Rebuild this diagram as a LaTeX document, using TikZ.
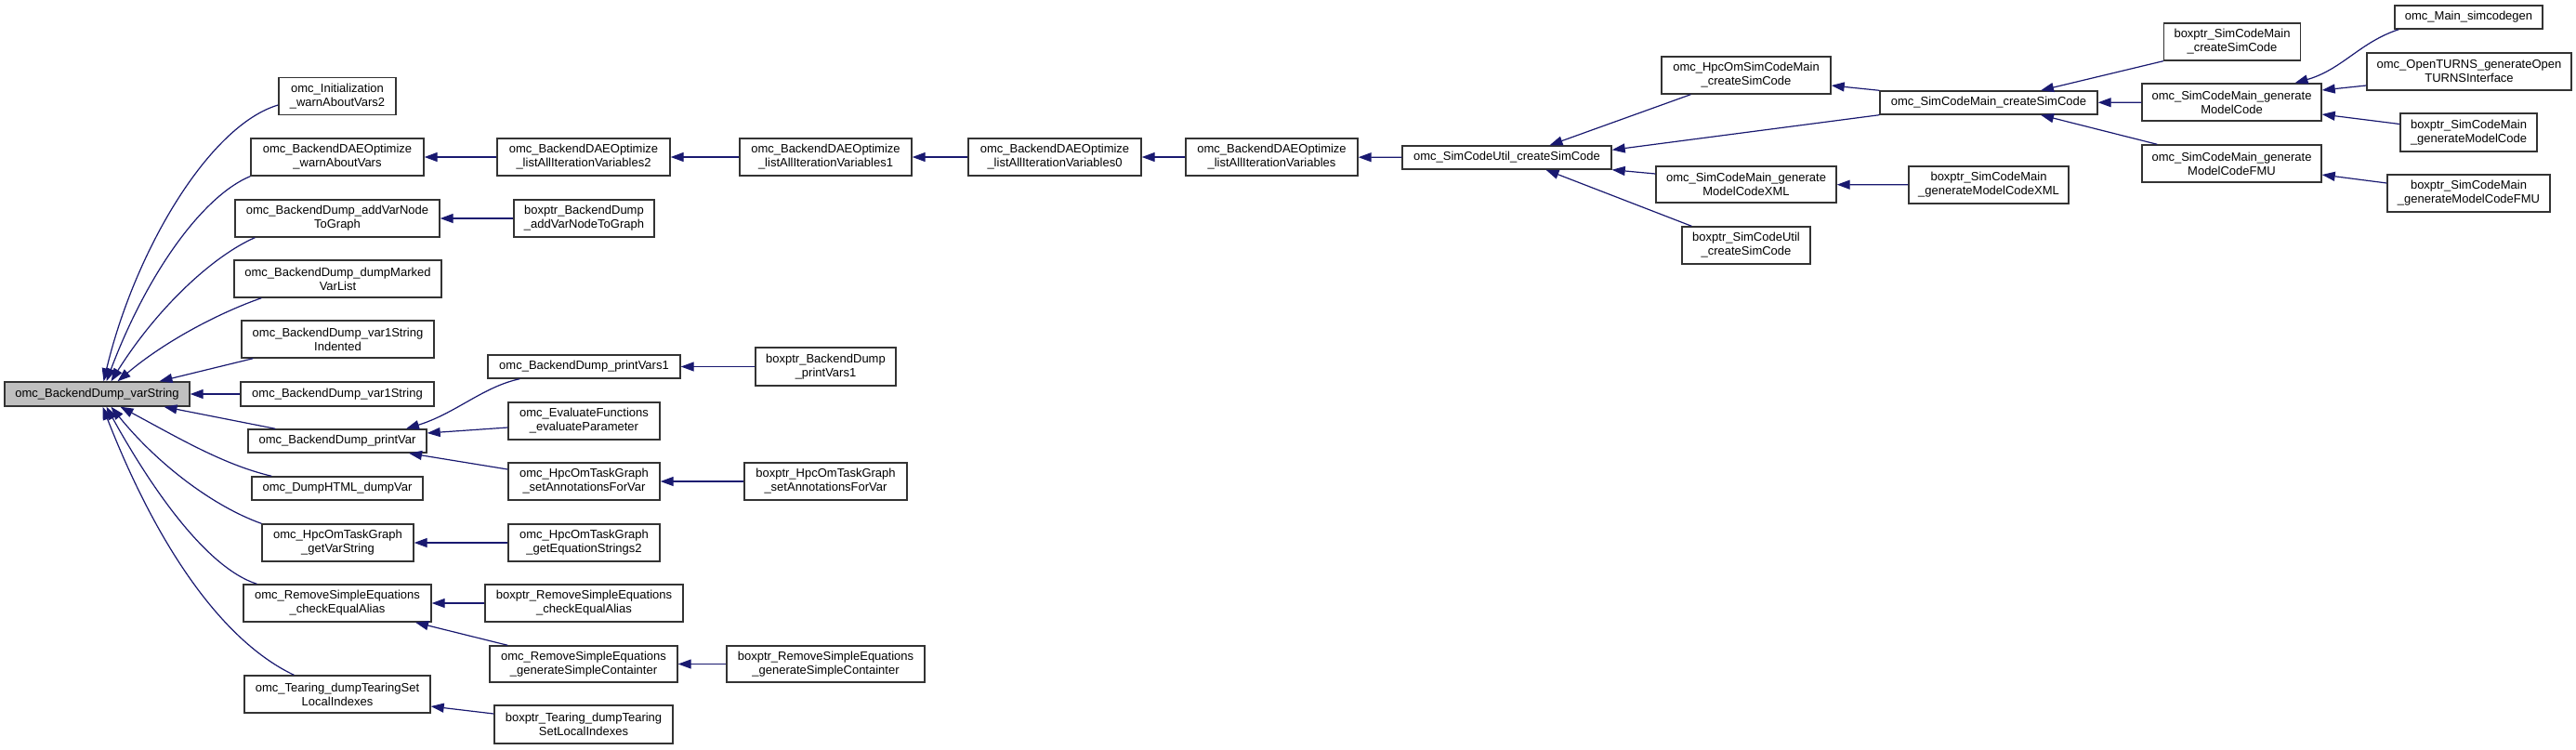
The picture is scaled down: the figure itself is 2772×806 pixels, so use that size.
\documentclass[tikz,border=0pt]{standalone}
\usepackage{fontspec}
\setmainfont{Liberation Sans}
\usepackage{tikz}
\usetikzlibrary{arrows.meta}
\usepackage{xcolor}
\definecolor{edgeblue}{RGB}{25,25,112}

\begin{document}
\begin{tikzpicture}[x=1pt, y=-1pt,
  fn/.style={draw=black!80, line width=1.4pt, fill=white, inner sep=0pt, minimum height=40pt, align=center, font=\fontsize{13}{15}\selectfont},
  fnone/.style={fn, minimum height=25pt},
  focus/.style={fnone, fill=black!25, minimum height=26pt},
  call/.style={draw=edgeblue, line width=1.2pt, -{Triangle[length=14pt,width=10pt]}}
]
\useasboundingbox (0,0) rectangle (2772,806);

% selected function
\node[focus, minimum width=199pt] (vs) at (104.5,424) {omc\_BackendDump\_varString};

% direct callers
\node[fn, minimum width=126pt] (initWarn) at (363,103.5) {omc\_Initialization\\\_warnAboutVars2};
\node[fn, minimum width=186pt] (daeWarn) at (363,169) {omc\_BackendDAEOptimize\\\_warnAboutVars};
\node[fn, minimum width=220pt] (addVar) at (363,235) {omc\_BackendDump\_addVarNode\\ToGraph};
\node[fn, minimum width=223pt] (dumpMarked) at (363.5,300) {omc\_BackendDump\_dumpMarked\\VarList};
\node[fn, minimum width=207pt] (var1Ind) at (363.5,365) {omc\_BackendDump\_var1String\\Indented};
\node[fnone, minimum width=208pt, minimum height=26pt] (var1) at (363,424) {omc\_BackendDump\_var1String};
\node[fnone, minimum width=192pt] (printVar) at (363,474.5) {omc\_BackendDump\_printVar};
\node[fnone, minimum width=184pt] (dumpHTML) at (363,525.5) {omc\_DumpHTML\_dumpVar};
\node[fn, minimum width=163pt] (getVarStr) at (363.5,584) {omc\_HpcOmTaskGraph\\\_getVarString};
\node[fn, minimum width=202pt] (checkEq) at (363,649) {omc\_RemoveSimpleEquations\\\_checkEqualAlias};
\node[fn, minimum width=200pt] (tearing) at (363,747) {omc\_Tearing\_dumpTearingSet\\LocalIndexes};

% second level
\node[fn, minimum width=186pt] (lAIV2) at (628,169) {omc\_BackendDAEOptimize\\\_listAllIterationVariables2};
\node[fn, minimum width=151pt] (bpAddVar) at (628.5,235) {boxptr\_BackendDump\\\_addVarNodeToGraph};
\node[fnone, minimum width=207pt] (printVars1) at (628.5,394.5) {omc\_BackendDump\_printVars1};
\node[fn, minimum width=163pt] (evalParam) at (628.5,453) {omc\_EvaluateFunctions\\\_evaluateParameter};
\node[fn, minimum width=163pt] (setAnnot) at (628.5,518) {omc\_HpcOmTaskGraph\\\_setAnnotationsForVar};
\node[fn, minimum width=163pt] (getEqStr2) at (628.5,584) {omc\_HpcOmTaskGraph\\\_getEquationStrings2};
\node[fn, minimum width=213pt] (bpCheckEq) at (628.5,649) {boxptr\_RemoveSimpleEquations\\\_checkEqualAlias};
\node[fn, minimum width=202pt, minimum height=39pt] (genSimple) at (628,714.5) {omc\_RemoveSimpleEquations\\\_generateSimpleContainter};
\node[fn, minimum width=192pt, minimum height=41pt] (bpTearing) at (628,779.5) {boxptr\_Tearing\_dumpTearing\\SetLocalIndexes};

% third level
\node[fn, minimum width=185pt] (lAIV1) at (888.5,169) {omc\_BackendDAEOptimize\\\_listAllIterationVariables1};
\node[fn, minimum width=151pt, minimum height=41pt] (bpPrintVars1) at (888.5,394.5) {boxptr\_BackendDump\\\_printVars1};
\node[fn, minimum width=175pt] (bpSetAnnot) at (888.5,518) {boxptr\_HpcOmTaskGraph\\\_setAnnotationsForVar};
\node[fn, minimum width=213pt, minimum height=39pt] (bpGenSimple) at (888.5,714.5) {boxptr\_RemoveSimpleEquations\\\_generateSimpleContainter};

% iteration variables chain
\node[fn, minimum width=186pt] (lAIV0) at (1135,169) {omc\_BackendDAEOptimize\\\_listAllIterationVariables0};
\node[fn, minimum width=185pt] (lAIV) at (1368.5,169) {omc\_BackendDAEOptimize\\\_listAllIterationVariables};
\node[fnone, minimum width=225pt] (scuCreate) at (1621.5,169.5) {omc\_SimCodeUtil\_createSimCode};

% sim code
\node[fn, minimum width=182pt] (hpcCreate) at (1879,81) {omc\_HpcOmSimCodeMain\\\_createSimCode};
\node[fn, minimum width=194pt, minimum height=39pt] (genXML) at (1879,198.5) {omc\_SimCodeMain\_generate\\ModelCodeXML};
\node[fn, minimum width=138pt] (bpScuCreate) at (1879,264) {boxptr\_SimCodeUtil\\\_createSimCode};
\node[fnone, minimum width=234pt] (scmCreate) at (2140,110.5) {omc\_SimCodeMain\_createSimCode};
\node[fn, minimum width=172pt] (bpGenXML) at (2140,199) {boxptr\_SimCodeMain\\\_generateModelCodeXML};
\node[fn, minimum width=147pt] (bpScmCreate) at (2402,45) {boxptr\_SimCodeMain\\\_createSimCode};
\node[fn, minimum width=193pt] (genMC) at (2401.5,110) {omc\_SimCodeMain\_generate\\ModelCode};
\node[fn, minimum width=193pt] (genFMU) at (2401.5,176) {omc\_SimCodeMain\_generate\\ModelCodeFMU};
\node[fnone, minimum width=159pt] (simcodegen) at (2656.5,18.5) {omc\_Main\_simcodegen};
\node[fn, minimum width=220pt] (openTurns) at (2657,77) {omc\_OpenTURNS\_generateOpen\\TURNSInterface};
\node[fn, minimum width=147pt, minimum height=41pt] (bpGenMC) at (2656.5,142.5) {boxptr\_SimCodeMain\\\_generateModelCode};
\node[fn, minimum width=175pt] (bpGenFMU) at (2656.5,208) {boxptr\_SimCodeMain\\\_generateModelCodeFMU};

% calls into varString
\draw[call] ([yshift=-9.5pt]initWarn.west) .. controls (225,135) and (145,270) .. ([xshift=7pt]vs.north);
\draw[call] (daeWarn.south west) .. controls (220,210) and (160,290) .. ([xshift=10pt]vs.north);
\draw[call] ([xshift=22pt]addVar.south west) .. controls (230,275) and (170,330) .. ([xshift=15pt]vs.north);
\draw[call] ([xshift=30pt]dumpMarked.south west) .. controls (240,335) and (180,365) .. ([xshift=22pt]vs.north);
\draw[call] ([xshift=13pt]var1Ind.south west) -- ([xshift=67pt]vs.north);
\draw[call] (var1) -- (vs);
\draw[call] ([xshift=30pt]printVar.north west) -- ([xshift=72pt]vs.south);
\draw[call] ([xshift=22pt]dumpHTML.north west) .. controls (240,500) and (190,470) .. ([xshift=25pt]vs.south);
\draw[call] (getVarStr.north west) .. controls (230,545) and (170,500) .. ([xshift=15pt]vs.south);
\draw[call] ([xshift=15pt]checkEq.north west) .. controls (220,610) and (160,520) .. ([xshift=10pt]vs.south);
\draw[call] ([xshift=54pt]tearing.north west) .. controls (240,690) and (170,590) .. ([xshift=6pt]vs.south);

% lower callers
\draw[call] (bpAddVar) -- (addVar);
\draw[call] ([xshift=35pt]printVars1.south west) .. controls (520,416) and (490,445) .. ([xshift=74pt]printVar.north);
\draw[call] ([yshift=-7pt]evalParam.west) -- ([yshift=8.5pt]printVar.east);
\draw[call] ([yshift=13pt]setAnnot.west) -- ([xshift=77pt]printVar.south);
\draw[call] (bpPrintVars1) -- (printVars1);
\draw[call] (bpSetAnnot) -- (setAnnot);
\draw[call] (getEqStr2) -- (getVarStr);
\draw[call] (bpCheckEq) -- (checkEq);
\draw[call] ([xshift=20pt]genSimple.north west) -- ([xshift=84pt]checkEq.south);
\draw[call] (bpGenSimple) -- (genSimple);
\draw[call] ([yshift=11.5pt]bpTearing.west) -- ([yshift=-13pt]tearing.east);

% chain along the top
\foreach \a/\b in {lAIV2/daeWarn, lAIV1/lAIV2, lAIV0/lAIV1, lAIV/lAIV0, scuCreate/lAIV}
  \draw[call] (\a) -- (\b);

\draw[call] ([xshift=32pt]hpcCreate.south west) -- ([xshift=46pt]scuCreate.north);
\draw[call] (scmCreate.south west) -- ([yshift=-5pt]scuCreate.north east);
\draw[call] ([yshift=11.5pt]genXML.west) -- (scuCreate.south east);
\draw[call] ([xshift=11pt]bpScuCreate.north west) -- ([xshift=42pt]scuCreate.south);
\draw[call] (scmCreate.north west) -- ([yshift=-11pt]hpcCreate.east);
\draw[call] (bpGenXML) -- (genXML);
\draw[call] (bpScmCreate.south west) -- ([xshift=56pt]scmCreate.north);
\draw[call] (genMC) -- (scmCreate);
\draw[call] ([xshift=17pt]genFMU.north west) -- ([xshift=56pt]scmCreate.south);
\draw[call] ([xshift=5pt]simcodegen.south west) .. controls (2540,45) and (2520,75) .. ([xshift=68pt]genMC.north);
\draw[call] ([yshift=-15pt]openTurns.west) -- ([yshift=13pt]genMC.east);
\draw[call] ([yshift=9pt]bpGenMC.west) -- ([yshift=-13pt]genMC.east);
\draw[call] ([yshift=11pt]bpGenFMU.west) -- ([yshift=-12pt]genFMU.east);
\end{tikzpicture}
\end{document}
